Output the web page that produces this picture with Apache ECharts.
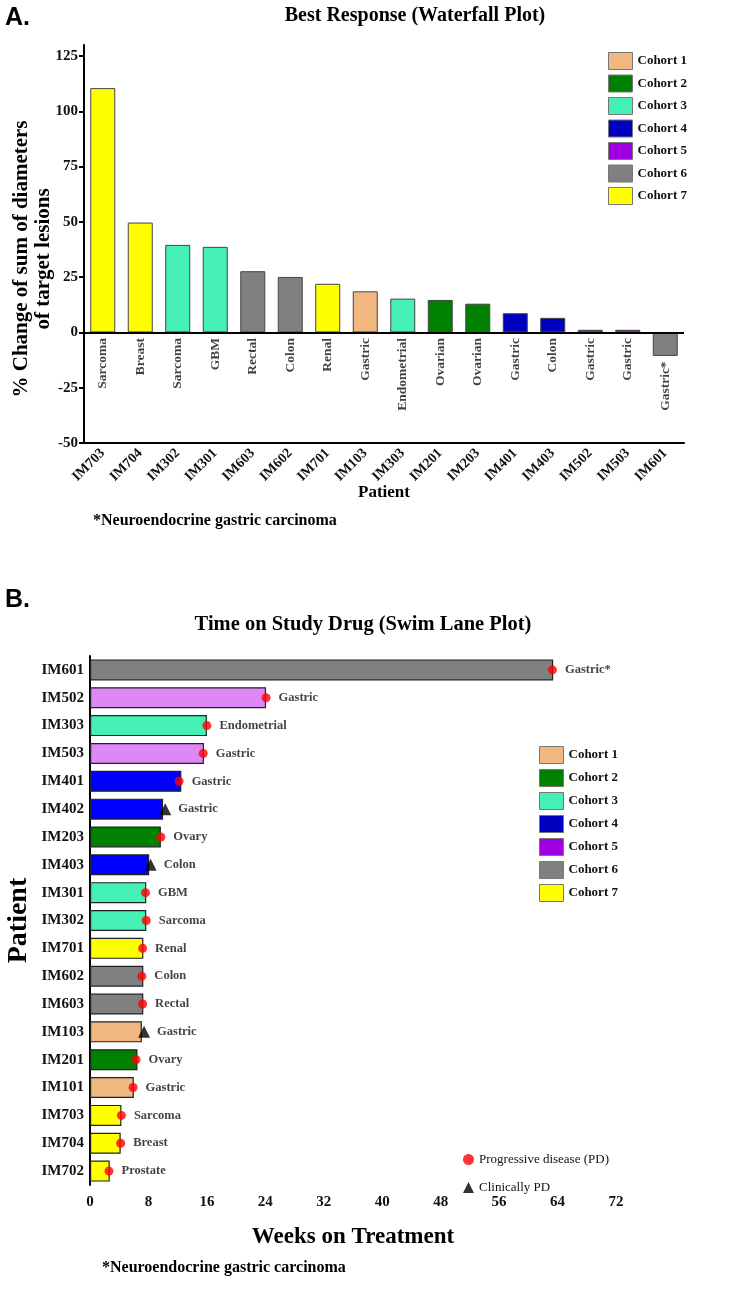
<!DOCTYPE html>
<html><head><meta charset="utf-8">
<script src="https://cdn.jsdelivr.net/npm/echarts@6/dist/echarts.min.js"></script>
<style>html,body{margin:0;padding:0;background:#fff}#c{width:733px;height:1306px}</style>
</head><body><div id="c"></div>
<script>
const cohortNames = ['Cohort 1','Cohort 2','Cohort 3','Cohort 4','Cohort 5','Cohort 6','Cohort 7'];
const legendColors = ['#F0B880','#008000','#44F0B4','#0000C0','#A000E0','#808080','#FFFF00'];
const swimColors = ['#F0B880','#008000','#44F0B4','#0000FF','#DD88F5','#808080','#FFFF00'];

// Waterfall (A)
const wfPatients = ['IM703','IM704','IM302','IM301','IM603','IM602','IM701','IM103','IM303','IM201','IM203','IM401','IM403','IM502','IM503','IM601'];
const wfTumor = ['Sarcoma','Breast','Sarcoma','GBM','Rectal','Colon','Renal','Gastric','Endometrial','Ovarian','Ovarian','Gastric','Colon','Gastric','Gastric','Gastric*'];
const wfChange = [110.5, 49.7, 39.6, 38.7, 27.7, 25.1, 22.0, 18.6, 15.3, 14.7, 13.0, 8.7, 6.6, 1.2, 1.2, -10.6];
const wfCohort = [7,7,3,3,6,6,7,1,3,2,2,4,4,5,5,6];
const wfYTicks = [-50,-25,0,25,50,75,100,125];

// Swim lane (B)
const slPatients = ['IM601','IM502','IM303','IM503','IM401','IM402','IM203','IM403','IM301','IM302','IM701','IM602','IM603','IM103','IM201','IM101','IM703','IM704','IM702'];
const slWeeks = [63.4,24.1,16.0,15.6,12.5,10.0,9.7,8.1,7.7,7.7,7.3,7.3,7.3,7.1,6.5,6.0,4.3,4.2,2.7];
const slCohort = [6,5,3,5,4,4,2,4,3,3,7,6,6,1,2,1,7,7,7];
const slTumor = ['Gastric*','Gastric','Endometrial','Gastric','Gastric','Gastric','Ovary','Colon','GBM','Sarcoma','Renal','Colon','Rectal','Gastric','Ovary','Gastric','Sarcoma','Breast','Prostate'];
const slEvent = ['PD','PD','PD','PD','PD','Clinical','PD','Clinical','PD','PD','PD','PD','PD','Clinical','PD','PD','PD','PD','PD'];
const slEventWeek = [63.3,24.1,16.0,15.5,12.2,10.3,9.7,8.3,7.6,7.7,7.2,7.1,7.2,7.4,6.3,5.9,4.3,4.2,2.6];

const SERIF = '"Liberation Serif","Times New Roman",serif';
const bold = (size, extra) => Object.assign({fontFamily: SERIF, fontWeight: 'bold', fontSize: size, color: '#111'}, extra || {});

const chart = echarts.init(document.getElementById('c'), null, {renderer: 'canvas'});

const series = [];
cohortNames.forEach((name, ci) => {
  series.push({
    type: 'bar', name, xAxisIndex: 0, yAxisIndex: 0, stack: 'wf', barWidth: 25,
    data: wfChange.map((v, i) => wfCohort[i] === ci + 1 ? v : '-'),
    itemStyle: {color: legendColors[ci], borderColor: '#444', borderWidth: 1},
    markLine: ci === 0 ? {silent: true, symbol: 'none', label: {show: false},
      lineStyle: {color: '#000', width: 2, type: 'solid'}, data: [{yAxis: 0}]} : undefined
  });
});
series.push({
  type: 'scatter', name: 'wfLabels', xAxisIndex: 0, yAxisIndex: 0, symbolSize: 1,
  itemStyle: {color: 'transparent'}, silent: true,
  data: wfChange.map((v, i) => ({value: [i, Math.min(0, v)], tumor: wfTumor[i]})),
  label: Object.assign({show: true, formatter: p => p.data.tumor, position: 'bottom', distance: 5,
    rotate: 90, align: 'right', verticalAlign: 'middle'}, bold(13.5))
});
cohortNames.forEach((name, ci) => {
  series.push({
    type: 'bar', name, xAxisIndex: 1, yAxisIndex: 1, stack: 'sl', barWidth: 21,
    data: slWeeks.map((v, i) => slCohort[i] === ci + 1 ? v : '-'),
    itemStyle: {color: swimColors[ci], borderColor: '#222', borderWidth: 1.2}
  });
});
function eventData(kind) {
  const out = [];
  slPatients.forEach((p, i) => { if (slEvent[i] === kind) out.push({value: [slEventWeek[i], p], tumor: slTumor[i]}); });
  return out;
}
series.push({
  type: 'scatter', name: 'Progressive disease (PD)', xAxisIndex: 1, yAxisIndex: 1,
  symbol: 'circle', symbolSize: 9, itemStyle: {color: '#FF0000'}, z: 5,
  data: eventData('PD'),
  label: Object.assign({show: true, formatter: p => p.data.tumor, position: 'right', distance: 8}, bold(12.5))
});
series.push({
  type: 'scatter', name: 'Clinically PD', xAxisIndex: 1, yAxisIndex: 1,
  symbol: 'triangle', symbolSize: 12, itemStyle: {color: '#000'}, z: 5,
  data: eventData('Clinical'),
  label: Object.assign({show: true, formatter: p => p.data.tumor, position: 'right', distance: 7}, bold(12.5))
});

const cohortLegendData = cohortNames.map((n, i) => ({name: n, icon: 'rect',
  itemStyle: {color: legendColors[i], borderColor: '#777', borderWidth: 1}}));

chart.setOption({
  animation: false,
  backgroundColor: '#fff',
  title: [
    {text: 'A.', left: 0, top: 1, textStyle: {fontFamily: '"Liberation Sans",Arial,sans-serif', fontWeight: 'bold', fontSize: 25, color: '#000'}},
    {text: 'Best Response (Waterfall Plot)', left: 410, top: 1, textAlign: 'center', textStyle: bold(20, {color: '#000'})},
    {text: '*Neuroendocrine gastric carcinoma', left: 88, top: 508, textStyle: bold(16, {color: '#000'})},
    {text: 'B.', left: 0, top: 583, textStyle: {fontFamily: '"Liberation Sans",Arial,sans-serif', fontWeight: 'bold', fontSize: 25, color: '#000'}},
    {text: 'Time on Study Drug (Swim Lane Plot)', left: 358, top: 609, textAlign: 'center', textStyle: bold(20.5, {color: '#000'})},
    {text: '*Neuroendocrine gastric carcinoma', left: 97, top: 1255, textStyle: bold(16, {color: '#000'})}
  ],
  legend: [
    {orient: 'vertical', left: 603, top: 47, itemWidth: 24, itemHeight: 17, itemGap: 4.5, selectedMode: false,
      textStyle: bold(13), data: cohortLegendData},
    {orient: 'vertical', left: 534, top: 741, itemWidth: 24, itemHeight: 17, itemGap: 5, selectedMode: false,
      textStyle: bold(13), data: cohortLegendData},
    {orient: 'vertical', left: 458, top: 1148, itemWidth: 11, itemHeight: 11, itemGap: 15, selectedMode: false,
      textStyle: {fontFamily: SERIF, fontSize: 13, color: '#111'},
      data: [{name: 'Progressive disease (PD)', icon: 'circle', itemStyle: {color: '#FF0000'}},
             {name: 'Clinically PD', icon: 'triangle', itemStyle: {color: '#000'}}]}
  ],
  grid: [
    {left: 84, top: 45, width: 600, height: 398, outerBoundsMode: 'none', containLabel: false},
    {left: 90, top: 656, width: 526, height: 529, outerBoundsMode: 'none', containLabel: false}
  ],
  xAxis: [
    {type: 'category', gridIndex: 0, data: wfPatients,
      axisLine: {onZero: false, lineStyle: {color: '#000', width: 2}},
      axisTick: {alignWithLabel: true, length: 6, lineStyle: {color: '#000', width: 2}},
      axisLabel: Object.assign({rotate: 45, margin: 8}, bold(14)),
      name: 'Patient', nameLocation: 'middle', nameGap: 41, nameMoveOverlap: false,
      nameTextStyle: bold(17, {color: '#000'})},
    {type: 'value', gridIndex: 1, min: 0, max: 72, interval: 8, splitLine: {show: false},
      axisLine: {onZero: false, lineStyle: {color: '#000', width: 2}},
      axisTick: {length: 6, lineStyle: {color: '#000', width: 2}},
      axisLabel: Object.assign({margin: 10}, bold(15)),
      name: 'Weeks on Treatment', nameLocation: 'middle', nameGap: 41, nameMoveOverlap: false,
      nameTextStyle: bold(23, {color: '#000'})}
  ],
  yAxis: [
    {type: 'value', gridIndex: 0, min: -50, max: 130, interval: 25, splitLine: {show: false},
      axisLine: {show: true, lineStyle: {color: '#000', width: 2}},
      axisTick: {show: true, length: 5, customValues: wfYTicks, lineStyle: {color: '#000', width: 2}},
      axisLabel: Object.assign({margin: 6, customValues: wfYTicks}, bold(15)),
      name: '% Change of sum of diameters\nof target lesions', nameLocation: 'middle', nameGap: 29, nameMoveOverlap: false,
      nameTextStyle: bold(21, {color: '#000', lineHeight: 22, padding: [0, 30, 0, 0]})},
    {type: 'category', gridIndex: 1, data: slPatients, inverse: true,
      axisLine: {lineStyle: {color: '#000', width: 2}},
      axisTick: {alignWithLabel: true, length: 5, lineStyle: {color: '#000', width: 2}},
      axisLabel: Object.assign({margin: 6}, bold(15)),
      name: 'Patient', nameLocation: 'middle', nameGap: 57, nameMoveOverlap: false,
      nameTextStyle: bold(28, {color: '#000'})}
  ],
  series
});
</script></body></html>
